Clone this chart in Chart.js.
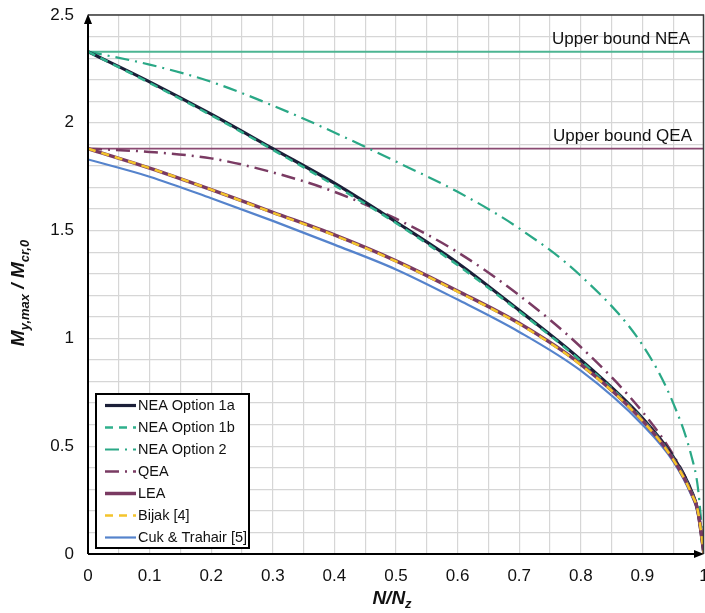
<!DOCTYPE html>
<html>
<head>
<meta charset="utf-8">
<script src="https://cdn.jsdelivr.net/npm/chart.js@4.4.1/dist/chart.umd.min.js"></script>
<style>
  html, body { margin: 0; padding: 0; background: #fff; }
  #wrap { width: 705px; height: 613px; }
</style>
</head>
<body>
<div id="wrap"><canvas id="chart" width="705" height="613"></canvas></div>
<script>
// N/Nz positions
const nRatio = [0, 0.1, 0.2, 0.3, 0.4, 0.5, 0.6, 0.7, 0.8, 0.9, 0.95, 0.98, 0.99, 1];

// My,max / Mcr,0 per method
const neaOption1a = [2.33, 2.19, 2.04, 1.88, 1.72, 1.54, 1.35, 1.13, 0.90, 0.63, 0.45, 0.29, 0.20, 0];
const neaOption1b = [2.33, 2.185, 2.035, 1.875, 1.71, 1.535, 1.34, 1.125, 0.895, 0.625, 0.445, 0.285, 0.20, 0];
const neaOption2 = [2.33, 2.27, 2.19, 2.08, 1.955, 1.82, 1.68, 1.51, 1.29, 0.97, 0.70, 0.45, 0.31, 0];
const qea = [1.88, 1.865, 1.835, 1.77, 1.68, 1.555, 1.40, 1.20, 0.96, 0.66, 0.46, 0.29, 0.20, 0];
const lea = [1.88, 1.79, 1.69, 1.585, 1.48, 1.36, 1.22, 1.07, 0.88, 0.62, 0.44, 0.28, 0.20, 0];
const bijak = [1.88, 1.79, 1.69, 1.583, 1.478, 1.357, 1.217, 1.067, 0.877, 0.618, 0.438, 0.278, 0.20, 0];
const cukTrahair = [1.83, 1.75, 1.65, 1.545, 1.435, 1.32, 1.18, 1.03, 0.85, 0.60, 0.43, 0.27, 0.19, 0];

// upper bounds
const boundX = [0, 1];
const upperNEA = [2.33, 2.33];
const upperQEA = [1.88, 1.88];
const boundLabels = ['Upper bound NEA', 'Upper bound QEA'];

const FONT = "'Liberation Sans', Arial, sans-serif";

function pts(xs, ys) {
  return xs.map((x, i) => ({x: x, y: ys[i]}));
}

const DASH = [8, 6];
const DASHDOT = [14, 6, 2, 6];

const datasets = [
  {label: 'NEA Option 1a', data: pts(nRatio, neaOption1a), borderColor: '#1b1f38', borderWidth: 3.2, order: 4},
  {label: 'NEA Option 1b', data: pts(nRatio, neaOption1b), borderColor: '#2fb08c', borderWidth: 2.5, borderDash: DASH, order: 3},
  {label: 'NEA Option 2', data: pts(nRatio, neaOption2), borderColor: '#2aa886', borderWidth: 2.2, borderDash: DASHDOT, order: 5},
  {label: 'QEA', data: pts(nRatio, qea), borderColor: '#7a3b63', borderWidth: 2.5, borderDash: DASHDOT, order: 6},
  {label: 'LEA', data: pts(nRatio, lea), borderColor: '#7a3a62', borderWidth: 3.5, order: 2},
  {label: 'Bijak [4]', data: pts(nRatio, bijak), borderColor: '#f4c42c', borderWidth: 2.5, borderDash: DASH, order: 1},
  {label: 'Cuk & Trahair [5]', data: pts(nRatio, cukTrahair), borderColor: '#5583cc', borderWidth: 2.2, order: 7},
  {label: boundLabels[0], data: pts(boundX, upperNEA), borderColor: '#4db592', borderWidth: 2, order: 9, bound: true},
  {label: boundLabels[1], data: pts(boundX, upperQEA), borderColor: '#8a4a72', borderWidth: 1.6, order: 9, bound: true}
];
datasets.forEach(d => {
  d.pointRadius = 0;
  d.fill = false;
  d.cubicInterpolationMode = 'monotone';
});

// axes titles, arrows, frame, bound labels, legend
const decorations = {
  id: 'decorations',
  afterDatasetsDraw(chart) {
    const {ctx, chartArea: a, scales} = chart;
    ctx.save();
    // top and right frame
    ctx.strokeStyle = '#3a3a3a';
    ctx.lineWidth = 1.5;
    ctx.beginPath();
    ctx.moveTo(a.left, a.top);
    ctx.lineTo(a.right - 0.5, a.top);
    ctx.lineTo(a.right - 0.5, a.bottom);
    ctx.stroke();

    // axis lines and arrows
    ctx.strokeStyle = '#000';
    ctx.fillStyle = '#000';
    ctx.lineWidth = 2;
    ctx.beginPath();
    ctx.moveTo(a.left, a.bottom);
    ctx.lineTo(a.right - 6, a.bottom);
    ctx.moveTo(a.left, a.bottom);
    ctx.lineTo(a.left, a.top + 6);
    ctx.stroke();
    ctx.beginPath();
    ctx.moveTo(a.left, a.top - 1);
    ctx.lineTo(a.left - 4, a.top + 9);
    ctx.lineTo(a.left + 4, a.top + 9);
    ctx.closePath();
    ctx.fill();
    ctx.beginPath();
    ctx.moveTo(a.right, a.bottom);
    ctx.lineTo(a.right - 10, a.bottom - 4);
    ctx.lineTo(a.right - 10, a.bottom + 4);
    ctx.closePath();
    ctx.fill();

    // bound labels
    ctx.font = '17px ' + FONT;
    ctx.fillStyle = '#111';
    ctx.textAlign = 'right';
    ctx.textBaseline = 'alphabetic';
    ctx.fillText(boundLabels[0], a.right - 14, scales.y.getPixelForValue(upperNEA[0]) - 8);
    ctx.fillText(boundLabels[1], a.right - 12, scales.y.getPixelForValue(upperQEA[0]) - 8);

    // legend
    const lx = 96, ly = 394, lw = 153, lh = 154;
    ctx.fillStyle = '#fff';
    ctx.fillRect(lx, ly, lw, lh);
    ctx.strokeStyle = '#000';
    ctx.lineWidth = 2;
    ctx.strokeRect(lx, ly, lw, lh);
    const items = chart.data.datasets.filter(d => !d.bound);
    ctx.font = '14.5px ' + FONT;
    ctx.textAlign = 'left';
    ctx.textBaseline = 'middle';
    items.forEach((d, i) => {
      const y = ly + 11.5 + i * 22;
      ctx.save();
      ctx.strokeStyle = d.borderColor;
      ctx.lineWidth = d.borderWidth;
      ctx.setLineDash(d.borderDash || []);
      ctx.beginPath();
      ctx.moveTo(lx + 9, y);
      ctx.lineTo(lx + 40, y);
      ctx.stroke();
      ctx.restore();
      ctx.fillStyle = '#111';
      ctx.fillText(d.label, lx + 42, y);
    });

    // x title N/Nz
    ctx.fillStyle = '#111';
    ctx.textBaseline = 'alphabetic';
    ctx.textAlign = 'left';
    const main = 'italic bold 19px ' + FONT, sub = 'italic bold 13px ' + FONT;
    ctx.font = main;
    const w1 = ctx.measureText('N/N').width;
    ctx.font = sub;
    const w2 = ctx.measureText('z').width;
    const x0 = 392 - (w1 + w2) / 2;
    ctx.font = main;
    ctx.fillText('N/N', x0, 604);
    ctx.font = sub;
    ctx.fillText('z', x0 + w1, 608);

    // y title My,max / Mcr,0
    const parts = [['M', false], ['y,max', true], [' / ', false], ['M', false], ['cr,0', true]];
    let total = 0;
    parts.forEach(p => { ctx.font = p[1] ? sub : main; total += ctx.measureText(p[0]).width; });
    ctx.translate(24, 293);
    ctx.rotate(-Math.PI / 2);
    let px = -total / 2;
    parts.forEach(p => {
      ctx.font = p[1] ? sub : main;
      ctx.fillText(p[0], px, p[1] ? 5 : 0);
      px += ctx.measureText(p[0]).width;
    });
    ctx.restore();
  }
};

new Chart(document.getElementById('chart'), {
  type: 'line',
  data: {datasets: datasets},
  options: {
    responsive: false,
    animation: false,
    devicePixelRatio: 1,
    layout: {padding: {top: 15, right: 1, left: 0, bottom: 0}},
    plugins: {
      legend: {display: false},
      tooltip: {enabled: false}
    },
    scales: {
      x: {
        type: 'linear',
        min: 0,
        max: 1,
        afterFit(scale) { scale.height = 59; scale.paddingRight = 0; scale.paddingLeft = 0; },
        ticks: {
          stepSize: 0.05,
          autoSkip: false,
          maxRotation: 0,
          padding: 12,
          color: '#111',
          font: {size: 17, family: FONT},
          callback: v => (Math.round(v * 20) % 2 === 0 ? String(Math.round(v * 10) / 10) : '')
        },
        grid: {color: '#d6d6d6', lineWidth: 1.2, drawTicks: false},
        border: {display: false}
      },
      y: {
        min: 0,
        max: 2.5,
        afterFit(scale) { scale.width = 88; scale.paddingTop = 0; scale.paddingBottom = 0; },
        ticks: {
          stepSize: 0.1,
          autoSkip: false,
          padding: 14,
          color: '#111',
          font: {size: 17, family: FONT},
          callback: v => (Math.round(v * 10) % 5 === 0 ? String(Math.round(v * 10) / 10) : '')
        },
        grid: {color: '#d6d6d6', lineWidth: 1.2, drawTicks: false},
        border: {display: false}
      }
    }
  },
  plugins: [decorations]
});
</script>
</body>
</html>
